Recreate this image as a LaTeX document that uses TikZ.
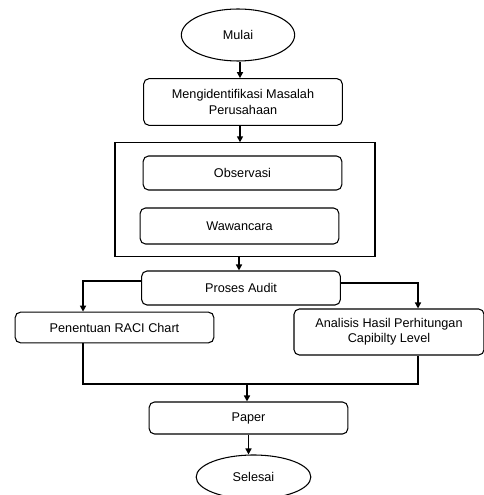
\documentclass[tikz,border=0pt]{standalone}
\usepackage{fontspec}
\setmainfont{Liberation Sans}
\usetikzlibrary{positioning, arrows.meta, shapes.geometric, calc}
\tikzset{
  stepbox/.style={rectangle, rounded corners=4pt, draw=black, line width=0.8pt,
    align=center, font=\fontsize{9.5}{11.5}\selectfont, inner sep=2pt,
    minimum width=149pt, minimum height=25.5pt},
  terminal/.style={ellipse, draw=black, line width=0.8pt,
    font=\fontsize{9.5}{11.5}\selectfont, inner sep=1pt},
  groupbox/.style={rectangle, draw=black, line width=0.8pt},
  arrowline/.style={-{Triangle[length=4.5pt, width=4.5pt]}, line width=1.4pt},
  joinline/.style={line width=1.4pt},
}

\begin{document}
\begin{tikzpicture}[x=0.75pt, y=-0.75pt]
    \useasboundingbox (0,0) rectangle (483,495);
    % ---------------- start and problem ----------------
    \node[terminal, minimum width=85pt, minimum height=39pt] (mulai) at (238,35) {Mulai};
    \node[stepbox, minimum height=35pt] (identify) at (243,102)
      {Mengidentifikasi Masalah\\Perusahaan};
    % ---------------- data collection ----------------
    \node[groupbox, minimum width=195pt, minimum height=85pt] (collect) at (245,199.5) {};
    \node[stepbox] (observasi) at (242.5,173) {Observasi};
    \node[stepbox, minimum height=27pt] (wawancara) at (239.5,226) {Wawancara};
    % ---------------- audit ----------------
    \node[stepbox] (audit) at (241,288) {Proses Audit};
    \node[stepbox, minimum height=23pt] (raci) at (114.5,327.5) {Penentuan RACI Chart};
    \node[stepbox, minimum width=142.5pt, minimum height=34.5pt] (analisis) at (389,332)
      {Analisis Hasil Perhitungan\\Capibilty Level};
    % ---------------- result ----------------
    \node[stepbox, minimum height=24pt] (paper) at (248.5,418) {Paper};
    \node[terminal, minimum width=86pt, minimum height=33pt] (selesai) at (253.5,477) {Selesai};
    \coordinate (merge) at (247,384);
    % connectors
    \draw[arrowline] ([xshift=1.5pt]mulai.south) -- ([xshift=1.5pt]mulai.south |- identify.north);
    \draw[arrowline] ([xshift=-2.25pt]identify.south) -- ([xshift=-2.25pt]identify.south |- collect.north);
    \draw[arrowline] ([xshift=-4.5pt]collect.south) -- ([xshift=-4.5pt]collect.south |- audit.north);
    \draw[arrowline] ([yshift=5pt]audit.west) -| ([xshift=-23.6pt]raci.north);
    \draw[arrowline] ([yshift=3.5pt]audit.east) -| ([xshift=21.75pt]analisis.north);
    \draw[joinline] ([xshift=-23.6pt]raci.south) |- (merge)
      -| ([xshift=21.75pt]analisis.south);
    \draw[arrowline] (merge) -- (merge |- paper.north);
    \draw[arrowline] (paper.south) -- (paper.south |- selesai.north);
\end{tikzpicture}
\end{document}
